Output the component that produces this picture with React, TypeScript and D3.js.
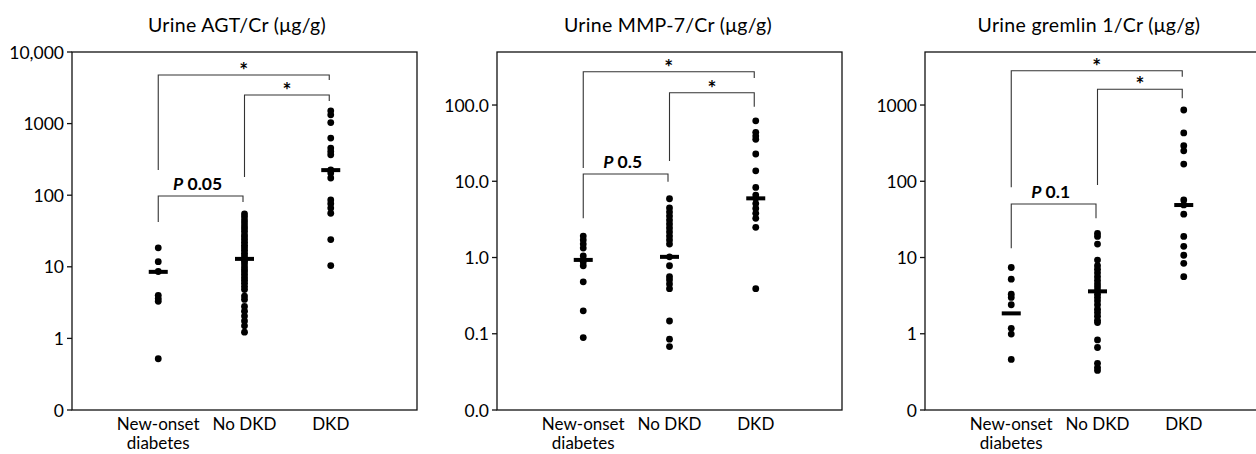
import React from "react";
import * as d3 from "d3";

// ---------- data ----------
const categories = ["New-onset diabetes", "No DKD", "DKD"];
const categoryLines = [["New-onset", "diabetes"], ["No DKD"], ["DKD"]];

const titles = ["Urine AGT/Cr (μg/g)", "Urine MMP-7/Cr (μg/g)", "Urine gremlin 1/Cr (μg/g)"];

// Panel 1: AGT
const agtTickValues = [0.1, 1, 10, 100, 1000, 10000];
const agtTickLabels = ["0", "1", "10", "100", "1000", "10,000"];
const agtNewOnset = [18.4, 11.8, 8.6, 4.0, 3.6, 3.3, 0.52];
const agtNoDkd = [55, 50, 45, 41, 37, 34, 31, 28, 26, 24, 22, 20, 18.5, 17, 15.5, 14.2, 13, 12, 11, 10, 9.2, 8.5, 7.8, 7.1, 6.5, 5.9, 5.3, 4.8, 3.9, 3.5, 2.8, 2.4, 2.05, 1.75, 1.5, 1.22];
const agtDkd = [1506, 1325, 1035, 627, 455, 408, 367, 226, 204, 174, 86, 76, 66, 56, 24, 10.4];
const agtMedians = [8.5, 12.9, 224];
const agtPText = "0.05";

// Panel 2: MMP-7
const mmpTickValues = [0.01, 0.1, 1, 10, 100];
const mmpTickLabels = ["0.0", "0.1", "1.0", "10.0", "100.0"];
const mmpNewOnset = [1.91, 1.7, 1.5, 1.33, 1.05, 0.87, 0.78, 0.48, 0.2, 0.089];
const mmpNoDkd = [5.9, 4.46, 3.95, 3.5, 3.1, 2.75, 2.44, 2.16, 1.91, 1.7, 1.5, 1.02, 0.78, 0.56, 0.51, 0.45, 0.39, 0.147, 0.085, 0.068];
const mmpDkd = [62, 43.8, 39.2, 35.5, 22.8, 13.7, 8.3, 6.6, 5.97, 5.1, 4.4, 3.8, 3.27, 2.49, 0.39];
const mmpMedians = [0.93, 1.02, 5.97];
const mmpPText = "0.5";

// Panel 3: gremlin 1
const grmTickValues = [0.1, 1, 10, 100, 1000];
const grmTickLabels = ["0", "1", "10", "100", "1000"];
const grmNewOnset = [7.4, 5.2, 3.3, 3.0, 2.4, 1.18, 0.99, 0.46];
const grmNoDkd = [20.7, 18.9, 15, 9.25, 7.8, 7.0, 6.3, 5.6, 5.0, 4.5, 4.1, 3.7, 3.3, 3.0, 2.7, 2.4, 2.1, 1.9, 1.7, 1.5, 1.4, 0.83, 0.66, 0.41, 0.36, 0.33];
const grmDkd = [860, 430, 293, 251, 168, 57, 49, 37, 18.9, 14, 10.7, 8.4, 5.6];
const grmMedians = [1.85, 3.6, 48.8];
const grmPText = "0.1";

// ---------- layout ----------
const W = 1256;
const H = 454;
const FONT = "Lato, 'Open Sans', sans-serif";

type Bracket = { from: number; to: number; y: number; leftEnd: number; rightEnd: number; kind: "star" | "p" };

const panels = [
  {
    title: titles[0], left: 72, titleX: 237, domain: [0.1, 10000],
    ticks: agtTickValues, tickLabels: agtTickLabels,
    groups: [agtNewOnset, agtNoDkd, agtDkd], medians: agtMedians, pText: agtPText,
    brackets: [
      { from: 0, to: 2, y: 75, leftEnd: 170, rightEnd: 80, kind: "star" },
      { from: 1, to: 2, y: 95, leftEnd: 177, rightEnd: 101, kind: "star" },
      { from: 0, to: 1, y: 196, leftEnd: 222, rightEnd: 202, kind: "p" },
    ] as Bracket[],
  },
  {
    title: titles[1], left: 497, titleX: 668, domain: [0.01, 496],
    ticks: mmpTickValues, tickLabels: mmpTickLabels,
    groups: [mmpNewOnset, mmpNoDkd, mmpDkd], medians: mmpMedians, pText: mmpPText,
    brackets: [
      { from: 0, to: 2, y: 71.7, leftEnd: 168, rightEnd: 78, kind: "star" },
      { from: 1, to: 2, y: 92.7, leftEnd: 161, rightEnd: 106.7, kind: "star" },
      { from: 0, to: 1, y: 174, leftEnd: 218.3, rightEnd: 181.7, kind: "p" },
    ] as Bracket[],
  },
  {
    title: titles[2], left: 925, titleX: 1089, domain: [0.1, 4960],
    ticks: grmTickValues, tickLabels: grmTickLabels,
    groups: [grmNewOnset, grmNoDkd, grmDkd], medians: grmMedians, pText: grmPText,
    brackets: [
      { from: 0, to: 2, y: 70.7, leftEnd: 187.3, rightEnd: 76.7, kind: "star" },
      { from: 1, to: 2, y: 89.3, leftEnd: 185, rightEnd: 98.3, kind: "star" },
      { from: 0, to: 1, y: 204, leftEnd: 248.3, rightEnd: 218.3, kind: "p" },
    ] as Bracket[],
  },
];

const TOP = 52;
const BOTTOM = 410;
const PW = 345;

function Panel({ p }: { p: (typeof panels)[number] }) {
  const y = d3.scaleLog().domain(p.domain).range([BOTTOM, TOP]);
  const x = d3.scalePoint<string>().domain(categories).range([p.left, p.left + PW]).padding(1);
  const cx = (i: number) => x(categories[i]) as number;
  return (
    <g>
      <text x={p.titleX} y={32} textAnchor="middle" fontSize={19.5} letterSpacing={0.3} fontFamily={FONT} fill="#000">
        {p.title}
      </text>
      <rect x={p.left} y={TOP} width={PW} height={BOTTOM - TOP} fill="none" stroke="#111" strokeWidth={1.3} />
      {p.ticks.map((t, i) => (
        <g key={i}>
          <line x1={p.left - 5} x2={p.left} y1={y(t)} y2={y(t)} stroke="#111" strokeWidth={1.3} />
          <text x={p.left - 8} y={y(t)} textAnchor="end" dominantBaseline="central" fontSize={17.5} fontFamily={FONT} fill="#000">
            {p.tickLabels[i]}
          </text>
        </g>
      ))}
      {categoryLines.map((lines, i) => (
        <text key={i} x={cx(i)} y={430} textAnchor="middle" fontSize={17} fontFamily={FONT} fill="#000">
          {lines.map((l, j) => (
            <tspan key={j} x={cx(i)} dy={j === 0 ? 0 : 18.5}>{l}</tspan>
          ))}
        </text>
      ))}
      {p.brackets.map((b, i) => {
        const x1 = cx(b.from);
        const x2 = cx(b.to) - 1.5;
        const mid = (x1 + x2) / 2;
        return (
          <g key={i}>
            <path d={`M${x1},${b.leftEnd}V${b.y}H${x2}V${b.rightEnd}`} fill="none" stroke="#333" strokeWidth={1.1} />
            {b.kind === "star" ? (
              <g opacity={0.99}>
                <text x={mid} y={b.y + 3} textAnchor="middle" fontSize={21} fontWeight="bold" fontFamily={FONT} fill="#000">*</text>
              </g>
            ) : (
              <text x={mid - 3} y={b.y - 6} textAnchor="middle" fontSize={17.5} fontFamily={FONT} fontWeight="bold" fill="#000">
                <tspan fontStyle="italic">P</tspan> {p.pText}
              </text>
            )}
          </g>
        );
      })}
      {p.groups.map((vals, gi) =>
        vals.map((v, k) => <circle key={`${gi}-${k}`} cx={cx(gi)} cy={y(v)} r={3.4} fill="#000" />)
      )}
      {p.medians.map((m, gi) => (
        <rect key={gi} x={cx(gi) - 9.5} y={y(m) - 2} width={19} height={4} fill="#000" />
      ))}
    </g>
  );
}

export default function App() {
  return (
    <svg width={W} height={H} style={{ position: "absolute", left: 0, top: 0, background: "#fff" }}>
      <rect width={W} height={H} fill="#fff" />
      {panels.map((p, i) => (
        <Panel key={i} p={p} />
      ))}
    </svg>
  );
}
